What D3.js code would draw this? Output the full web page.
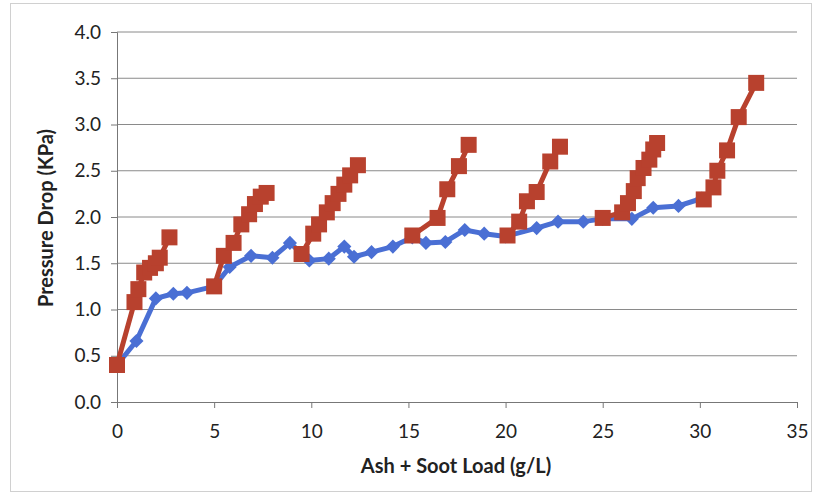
<!DOCTYPE html>
<html><head><meta charset="utf-8">
<script src="https://cdn.jsdelivr.net/npm/d3@7"></script>
<style>body{margin:0;background:#fff;} text{font-family:Lato,"Open Sans",sans-serif;}</style>
</head><body>
<svg id="c" width="817" height="495"></svg>
<script>
const xTicks = [0,5,10,15,20,25,30,35];
const yTicks = [0.0,0.5,1.0,1.5,2.0,2.5,3.0,3.5,4.0];
const blueX = [0,1.0,2.0,2.9,3.6,5.0,5.8,6.9,8.0,8.9,9.9,10.9,11.7,12.2,13.1,14.2,15.2,15.9,16.9,17.9,18.9,20.0,21.6,22.7,24.0,25.0,26.5,27.6,28.9,30.1];
const blueY = [0.40,0.66,1.12,1.17,1.18,1.25,1.46,1.58,1.56,1.72,1.53,1.55,1.68,1.57,1.62,1.68,1.78,1.72,1.73,1.86,1.82,1.79,1.88,1.95,1.95,1.98,1.98,2.10,2.12,2.20];
const redX1 = [0,0.9,1.1,1.4,1.7,2.0,2.2,2.7];
const redY1 = [0.40,1.08,1.22,1.40,1.45,1.50,1.56,1.78];
const redX2 = [5.0,5.5,6.0,6.4,6.8,7.1,7.4,7.7];
const redY2 = [1.25,1.58,1.72,1.92,2.03,2.14,2.22,2.26];
const redX3 = [9.5,10.1,10.4,10.8,11.1,11.4,11.7,12.0,12.4];
const redY3 = [1.60,1.82,1.92,2.05,2.15,2.25,2.35,2.45,2.56];
const redX4 = [15.2,16.5,17.0,17.6,18.1];
const redY4 = [1.80,1.99,2.30,2.55,2.78];
const redX5 = [20.1,20.7,21.1,21.6,22.3,22.8];
const redY5 = [1.80,1.95,2.17,2.27,2.60,2.76];
const redX6 = [25.0,26.0,26.3,26.6,26.8,27.1,27.4,27.6,27.8];
const redY6 = [1.99,2.05,2.15,2.28,2.42,2.53,2.62,2.73,2.80];
const redX7 = [30.2,30.7,30.9,31.4,32.0,32.9];
const redY7 = [2.19,2.32,2.50,2.72,3.08,3.45];

const svg = d3.select("#c");
const x = d3.scaleLinear().domain([0,35]).range([117,797]);
const y = d3.scaleLinear().domain([0,4]).range([402,32]);
const blueC = "#4a6fd4", redC = "#b8412e";

svg.append("rect").attr("x",10.5).attr("y",3.5).attr("width",801).attr("height",488)
  .attr("fill","none").attr("stroke","#d0d0d0");

svg.append("g").selectAll("line").data(yTicks.slice(1)).join("line")
  .attr("x1",117).attr("x2",797).attr("y1",d=>y(d)).attr("y2",d=>y(d))
  .attr("stroke","#8a8a8a").attr("stroke-width",1);

const yAxis = svg.append("g").attr("transform","translate(117,0)")
  .call(d3.axisLeft(y).tickValues(yTicks).tickFormat(d3.format(".1f")).tickSizeOuter(0).tickSize(6).tickPadding(10));
const xAxis = svg.append("g").attr("transform","translate(0,402)")
  .call(d3.axisBottom(x).tickValues(xTicks).tickFormat(d3.format("d")).tickSizeOuter(0).tickSize(6).tickPadding(17));
[yAxis,xAxis].forEach(a=>{
  a.selectAll("path,line").attr("stroke","#777");
  a.selectAll("text").attr("font-size",19).attr("fill","#222").attr("font-family","Lato,'Open Sans',sans-serif");
});

const line = d3.line().x(d=>x(d[0])).y(d=>y(d[1]));
const blue = blueX.map((v,i)=>[v,blueY[i]]);
const reds = [[redX1,redY1],[redX2,redY2],[redX3,redY3],[redX4,redY4],[redX5,redY5],[redX6,redY6],[redX7,redY7]]
  .map(([xs,ys])=>xs.map((v,i)=>[v,ys[i]]));

svg.append("path").datum(blue).attr("d",line).attr("fill","none").attr("stroke",blueC)
  .attr("stroke-width",5).attr("stroke-linejoin","round");
svg.append("g").selectAll("path").data(blue).join("path")
  .attr("d",d3.symbol(d3.symbolSquare,100))
  .attr("transform",d=>`translate(${x(d[0])},${y(d[1])}) rotate(45)`).attr("fill",blueC);

reds.forEach(r=>{
  svg.append("path").datum(r).attr("d",line).attr("fill","none").attr("stroke",redC)
    .attr("stroke-width",5).attr("stroke-linejoin","round");
});
reds.forEach(r=>{
  svg.append("g").selectAll("rect").data(r).join("rect")
    .attr("x",d=>x(d[0])-8).attr("y",d=>y(d[1])-8).attr("width",16).attr("height",16)
    .attr("fill",redC);
});

svg.append("text").attr("transform","translate(53,218) rotate(-90)").attr("text-anchor","middle")
  .attr("font-size",20).attr("font-weight","bold").attr("fill","#222").text("Pressure Drop (KPa)");
svg.append("text").attr("x",456).attr("y",473).attr("text-anchor","middle")
  .attr("font-size",20).attr("font-weight","bold").attr("fill","#222").text("Ash + Soot Load (g/L)");
</script>
</body></html>
